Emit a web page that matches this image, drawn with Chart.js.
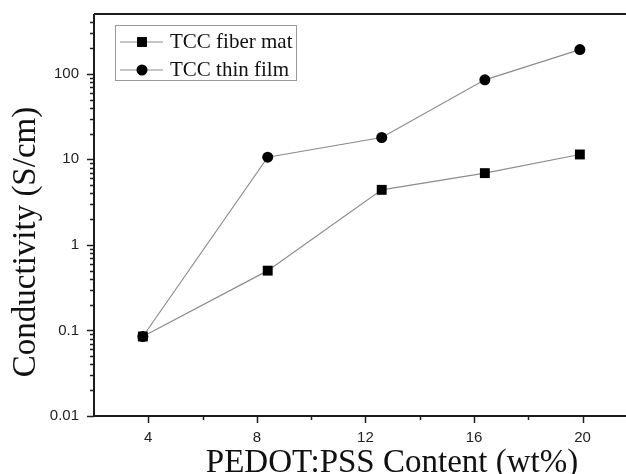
<!DOCTYPE html>
<html lang="en">
<head>
    <meta charset="UTF-8">
    <title>Conductivity vs PEDOT:PSS content</title>
    <script src="https://cdn.jsdelivr.net/npm/chart.js"></script>
    <style>
        body { margin: 0; background: #fff; }
        canvas { display: block; }
    </style>
</head>
<body>
    <canvas id="chart" width="626" height="474"></canvas>
    <script>
        // --- Data ---
        const contentWt = [3.8, 8.4, 12.6, 16.4, 19.9];
        const fiberMat = [0.085, 0.50, 4.4, 6.9, 11.4];
        const thinFilm = [0.085, 10.6, 18.0, 85, 192];
        const xTickValues = [2, 4, 6, 8, 10, 12, 14, 16, 18, 20];
        const xTickLabels = ['', '4', '', '8', '', '12', '', '16', '', '20'];
        const yDecades = [0.01, 0.1, 1, 10, 100];
        const yDecadeLabels = ['0.01', '0.1', '1', '10', '100'];
        const seriesNames = ['TCC fiber mat', 'TCC thin film'];

        const AXIS = '#1c1c1c';
        const LINE = '#8c8c8c';

        function points(ys) {
            return contentWt.map((x, i) => ({ x: x, y: ys[i] }));
        }

        // all log ticks 1..9 x 10^k, labelled only on decades
        function logTicks() {
            const out = [];
            yDecades.forEach(d => {
                for (let m = 1; m <= 9; m++) {
                    const v = +(d * m).toPrecision(3);
                    if (v < 500) out.push({ value: v });
                }
            });
            return out;
        }
        function isDecade(v) {
            return yDecades.some(d => Math.abs(d - v) < d * 1e-6);
        }

        // keep the plot area fixed: no extra room for overhanging labels
        function noPad(s) {
            s.paddingTop = 0; s.paddingBottom = 0;
            s.paddingLeft = 0; s.paddingRight = 0;
        }

        // --- Axis frame, tick marks, titles, legend ---
        const framePlugin = {
            id: 'frame',
            afterDraw(chart) {
                const ctx = chart.ctx;
                const a = chart.chartArea;
                const xs = chart.scales.x, ys = chart.scales.y;
                ctx.save();
                ctx.strokeStyle = AXIS;
                ctx.lineWidth = 2;
                ctx.beginPath();
                ctx.moveTo(a.left, a.top); ctx.lineTo(a.right, a.top);
                ctx.moveTo(a.left, a.top); ctx.lineTo(a.left, a.bottom);
                ctx.moveTo(a.left - 1, a.bottom); ctx.lineTo(a.right, a.bottom);
                ctx.stroke();

                ctx.lineWidth = 1.5;
                ctx.beginPath();
                ys.ticks.forEach(t => {
                    const y = Math.round(ys.getPixelForValue(t.value)) + 0.5;
                    const len = isDecade(t.value) ? 7 : 4;
                    ctx.moveTo(a.left, y); ctx.lineTo(a.left - len, y);
                });
                xTickValues.forEach((v, i) => {
                    if (v <= 2) return;
                    const x = Math.round(xs.getPixelForValue(v)) + 0.5;
                    const len = xTickLabels[i] ? 7 : 4;
                    ctx.moveTo(x, a.bottom); ctx.lineTo(x, a.bottom + len);
                });
                ctx.stroke();

                // axis titles
                ctx.fillStyle = '#111';
                ctx.font = '33px "Liberation Serif", "Times New Roman", serif';
                ctx.textAlign = 'center';
                ctx.textBaseline = 'alphabetic';
                ctx.fillText('PEDOT:PSS Content (wt%)', 392, 472);
                ctx.save();
                ctx.translate(35, 242);
                ctx.rotate(-Math.PI / 2);
                ctx.fillText('Conductivity (S/cm)', 0, 0);
                ctx.restore();

                // legend box
                ctx.strokeStyle = '#9a9a9a';
                ctx.lineWidth = 1;
                ctx.strokeRect(115.5, 25.5, 181, 55);
                ctx.font = '21px "Liberation Serif", "Times New Roman", serif';
                ctx.textAlign = 'left';
                const rows = [
                    { y: 42, style: 'rect', r: 7 },
                    { y: 70, style: 'circle', r: 5.5 }
                ];
                rows.forEach((row, i) => {
                    ctx.strokeStyle = LINE;
                    ctx.lineWidth = 1.2;
                    ctx.beginPath();
                    ctx.moveTo(120, row.y); ctx.lineTo(163, row.y);
                    ctx.stroke();
                    ctx.fillStyle = '#000';
                    ctx.strokeStyle = '#000';
                    Chart.helpers.drawPoint(ctx, { pointStyle: row.style, radius: row.r, borderWidth: 0, rotation: 0 }, 142, row.y);
                    ctx.fillStyle = '#111';
                    ctx.fillText(seriesNames[i], 170, row.y + 6);
                });
                ctx.restore();
            }
        };

        new Chart(document.getElementById('chart'), {
            type: 'scatter',
            data: {
                datasets: [
                    {
                        label: seriesNames[0],
                        data: points(fiberMat),
                        showLine: true,
                        borderColor: LINE,
                        borderWidth: 1.2,
                        pointStyle: 'rect',
                        pointRadius: 7,
                        pointBackgroundColor: '#000',
                        pointBorderColor: '#000',
                        pointBorderWidth: 0
                    },
                    {
                        label: seriesNames[1],
                        data: points(thinFilm),
                        showLine: true,
                        borderColor: LINE,
                        borderWidth: 1.2,
                        pointStyle: 'circle',
                        pointRadius: 5.5,
                        pointBackgroundColor: '#000',
                        pointBorderColor: '#000',
                        pointBorderWidth: 0
                    }
                ]
            },
            options: {
                responsive: false,
                animation: false,
                layout: { autoPadding: false, padding: { top: 14, right: 0, left: 0, bottom: 0 } },
                plugins: {
                    legend: { display: false },
                    tooltip: { enabled: false }
                },
                scales: {
                    x: {
                        type: 'linear',
                        min: 2,
                        max: 21.6,
                        grid: { display: false, drawTicks: false },
                        border: { display: false },
                        afterBuildTicks: s => { s.ticks = xTickValues.map(v => ({ value: v })); },
                        afterFit: s => { s.height = 58; noPad(s); },
                        ticks: {
                            autoSkip: false,
                            maxRotation: 0,
                            padding: 13,
                            color: '#222',
                            font: { family: '"Liberation Sans", Arial, sans-serif', size: 15 },
                            callback: v => {
                                const i = xTickValues.indexOf(v);
                                return i >= 0 ? xTickLabels[i] : '';
                            }
                        }
                    },
                    y: {
                        type: 'logarithmic',
                        min: 0.01,
                        max: 500,
                        grid: { display: false, drawTicks: false },
                        border: { display: false },
                        afterBuildTicks: s => { s.ticks = logTicks(); },
                        afterFit: s => { s.width = 94; noPad(s); },
                        ticks: {
                            autoSkip: false,
                            padding: 15,
                            color: '#222',
                            font: { family: '"Liberation Sans", Arial, sans-serif', size: 15 },
                            callback: v => {
                                const i = yDecades.findIndex(d => Math.abs(d - v) < d * 1e-6);
                                return i >= 0 ? yDecadeLabels[i] : '';
                            }
                        }
                    }
                }
            },
            plugins: [framePlugin]
        });
    </script>
</body>
</html>
